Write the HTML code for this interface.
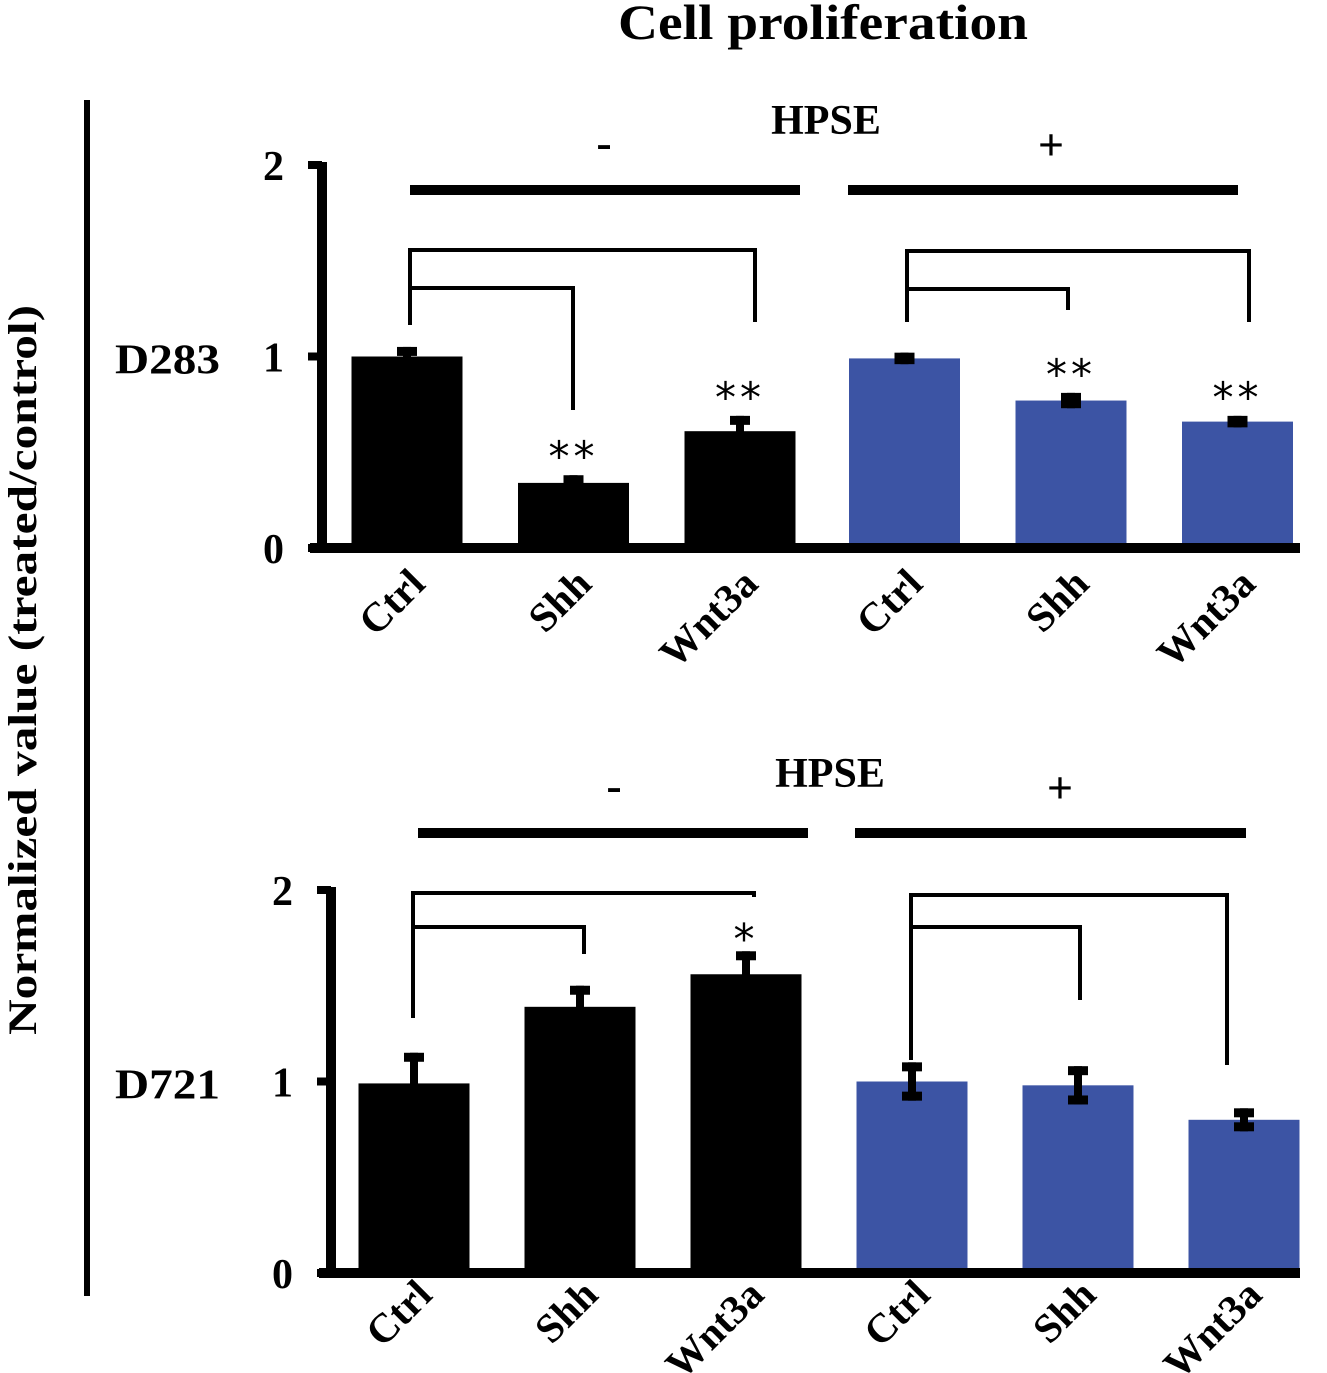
<!DOCTYPE html>
<html><head><meta charset="utf-8"><style>
html,body{margin:0;padding:0;background:#fff;}
svg{display:block;font-family:"Liberation Serif",serif;font-weight:bold;}
</style></head><body>
<svg id="fig" width="1327" height="1373" viewBox="0 0 1327 1373">
<text x="823" y="39" font-size="50" text-anchor="middle" textLength="410" lengthAdjust="spacingAndGlyphs">Cell proliferation</text>
<line x1="87" y1="100" x2="87" y2="1296" stroke="#000" stroke-width="6"/>
<text transform="translate(36,670) rotate(-90)" font-size="40" text-anchor="middle" textLength="730" lengthAdjust="spacingAndGlyphs">Normalized  value  (treated/control)</text>
<g id="panels"></g>
</svg>
<script>
const categories = ["Ctrl","Shh","Wnt3a","Ctrl","Shh","Wnt3a"];
const hpseGroup = ["-","-","-","+","+","+"];
const d283Values = [1.0, 0.34, 0.61, 0.99, 0.77, 0.66];
const d283Errors = [0.05, 0.04, 0.08, 0.03, 0.04, 0.03];
const d283Stars = ["", "**", "**", "", "**", "**"];
const d721Values = [0.99, 1.39, 1.56, 1.0, 0.98, 0.80];
const d721Errors = [0.16, 0.11, 0.12, 0.10, 0.10, 0.06];
const d721Stars = ["", "", "*", "", "", ""];
const yTicks = [0, 1, 2];

const NS = "http://www.w3.org/2000/svg";
const root = document.getElementById('panels');
function mk(tag, attrs, parent){const e=document.createElementNS(NS,tag);for(const k in attrs)e.setAttribute(k,attrs[k]);(parent||root).appendChild(e);return e;}

function panel(cfg){
  const g = mk('g',{});
  
  
  const y = v => cfg.y0 - v*cfg.unit;
  const x = i => cfg.firstCenter + i*cfg.step + (i>=3?cfg.gap:0);
  const bw = 111;
  categories.forEach((c,i)=>{
    const r = mk('rect',{x:x(i)-bw/2,y:y(cfg.vals[i]),width:bw,height:cfg.y0-y(cfg.vals[i]),fill:hpseGroup[i]==='-'?'#000':'#3c54a4'},g);
    
    
    const hi=y(cfg.vals[i]+cfg.errs[i]), lo=y(cfg.vals[i]-cfg.errs[i]);
    const eb = mk('g',{},g);
    
    
    mk('rect',{x:x(i)-4,y:hi,width:8,height:lo-hi,fill:'#000'},eb);
    mk('rect',{x:x(i)-10,y:hi,width:20,height:9,fill:'#000'},eb);
    mk('rect',{x:x(i)-10,y:lo-9,width:20,height:9,fill:'#000'},eb);
    if(cfg.stars[i]){
      const t=mk('text',{x:x(i),y:hi-cfg.starGap+8,'font-size':42,'text-anchor':'middle','letter-spacing':4,'font-family':'"DejaVu Sans",sans-serif','font-weight':'normal'},g);
      t.textContent=cfg.stars[i];
      
      
    }
    const lab=mk('text',{transform:`translate(${x(i)+20},${cfg.y0+cfg.labelDy}) rotate(-45)`,'font-size':41,'text-anchor':'end'},g);
    lab.textContent=c;
    
    
  });
  const ax = mk('path',{d:`M${cfg.axX} ${y(2)-3} V${cfg.y0} M${cfg.axX-12} ${cfg.y0} H1300`,stroke:'#000','stroke-width':10,fill:'none'},g);
  
  
  yTicks.forEach(t=>{
    mk('line',{x1:cfg.axX-14,x2:cfg.axX,y1:y(t),y2:y(t),stroke:'#000','stroke-width':8},g);
    const tl=mk('text',{x:cfg.axX-38,y:y(t)+15,'font-size':42,'text-anchor':'end'},g);
    tl.textContent=t;
    
    
  });
  const cl=mk('text',{x:115,y:y(1)+17,'font-size':42,textLength:105,lengthAdjust:'spacingAndGlyphs'},g);
  cl.textContent=cfg.cell;
  
  
  const h=mk('text',{x:cfg.hpseX,y:cfg.hpseY,'font-size':42,'text-anchor':'middle'},g);
  h.textContent='HPSE';
  
  
  const m=mk('text',{x:cfg.minusX,y:cfg.lineY-32,'font-size':46,'text-anchor':'middle'},g);
  m.textContent='-';
  
  
  const p=mk('text',{x:cfg.plusX,y:cfg.lineY-30,'font-size':46,'text-anchor':'middle'},g);
  p.textContent='+';
  
  
  const gl=mk('path',{d:`M${cfg.lineA[0]} ${cfg.lineY} H${cfg.lineA[1]} M${cfg.lineB[0]} ${cfg.lineY} H${cfg.lineB[1]}`,stroke:'#000','stroke-width':10},g);
  
  
  cfg.brackets.forEach(b=>{
    const br=mk('path',{d:b,stroke:'#000','stroke-width':4,fill:'none'},g);
    
    
  });
}

panel({name:'d283-panel',cell:'D283',y0:548,unit:191.5,firstCenter:407,step:166.5,gap:-2,axX:322,labelDy:38,vals:d283Values,errs:d283Errors,stars:d283Stars,starGap:12,
  hpseX:826,hpseY:134,minusX:604,plusX:1051,lineY:190,lineA:[410,800],lineB:[848,1238],
  brackets:['M410 325 V250 H755 V322','M410 288 H573 V410','M907 322 V251 H1249 V322','M907 289 H1068 V310']});
panel({name:'d721-panel',cell:'D721',y0:1273,unit:191.5,firstCenter:414,step:166,gap:0,axX:331,labelDy:24,vals:d721Values,errs:d721Errors,stars:d721Stars,starGap:6,
  hpseX:830,hpseY:787,minusX:614,plusX:1060,lineY:833,lineA:[418,808],lineB:[855,1246],
  brackets:['M413 1018 V893 H754 V897','M413 927 H584 V954','M911 1060 V895 H1227 V1065','M911 927 H1080 V1000']});
</script>
</body></html>
